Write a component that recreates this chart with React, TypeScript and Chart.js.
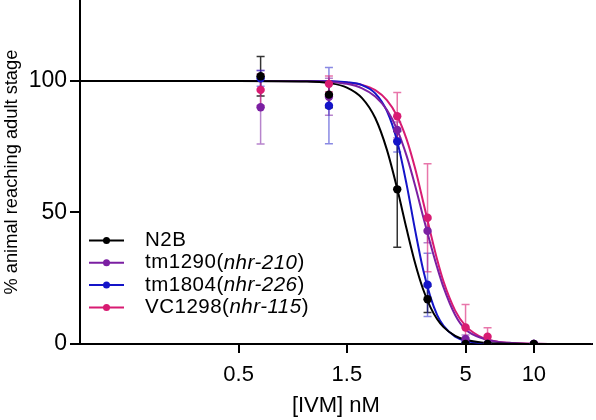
import { useEffect, useRef } from "react";
import { Chart, registerables } from "chart.js";

Chart.register(...registerables);

const FONT = "'Liberation Sans', Arial, Helvetica, sans-serif";

// Strains / legend
const strains = ["N2B", "tm1290", "tm1804", "VC1298"];
const genes = ["", "nhr-210", "nhr-226", "nhr-115"];
const colors = ["#000000", "#7B1FA2", "#1414C8", "#D81B72"];
const errColors = [
  "rgba(0,0,0,0.8)",
  "rgba(123,31,162,0.55)",
  "rgba(20,20,200,0.5)",
  "rgba(216,27,114,0.6)",
];

// Measured points (IVM concentration, nM)
const concentrations = [0.625, 1.25, 2.5, 3.4, 5, 6.25, 10];
const n2bMean = [101.8, 94.8, 58.8, 17, 0, 0, 0];
const n2bErr = [7.5, 5, 22, 5, 0, 0, 0];
const tm1290Mean = [90, 94, 81.4, 43, 1.9, 0, 0];
const tm1290Err = [14, 7, 3, 4.5, 1.5, 0, 0];
const tm1804Mean = [101, 90.6, 77, 22.5, 0.5, 0, 0];
const tm1804Err = [3, 14.5, 4, 12, 0.5, 0, 0];
const vc1298Mean = [96.6, 98.9, 86.6, 48, 6.3, 2.8, 0];
const vc1298Err = [6, 3, 9, 20.5, 8.7, 3.4, 0];

// Fitted curves
const curveX = [0.1, 0.5, 1, 1.25, 1.5, 1.75, 2, 2.25, 2.5, 2.75, 3, 3.25, 3.5, 3.75, 4, 4.5, 5, 6, 7, 8, 10, 14, 18];
const n2bFit = [100, 100, 99.8, 99.2, 97.5, 93.5, 85.9, 73.9, 59.0, 43.7, 30.6, 20.8, 14.0, 9.4, 6.4, 3.1, 1.6, 0.5, 0.2, 0.1, 0, 0, 0];
const tm1290Fit = [100, 100, 99.9, 99.6, 98.9, 97.2, 94.1, 89.0, 81.4, 71.5, 60.1, 48.5, 38.1, 29.1, 21.5, 11.0, 5.5, 2.0, 0.8, 0.4, 0.1, 0, 0];
const tm1804Fit = [100, 100, 100, 99.9, 99.5, 98.4, 95.3, 88.6, 77.0, 60.6, 43.1, 28.3, 17.9, 11.0, 6.9, 2.8, 1.2, 0.3, 0.1, 0, 0, 0, 0];
const vc1298Fit = [100, 100, 100, 99.8, 99.4, 98.5, 96.5, 92.7, 86.6, 77.8, 66.6, 54.2, 42.4, 32.0, 23.7, 12.7, 6.9, 2.2, 0.8, 0.35, 0.1, 0, 0];

// Axis ticks
const xTicks = [0.5, 1.5, 5, 10];
const yTicks = [0, 50, 100];

const means = [n2bMean, tm1290Mean, tm1804Mean, vc1298Mean];
const errs = [n2bErr, tm1290Err, tm1804Err, vc1298Err];
const fits = [n2bFit, tm1290Fit, tm1804Fit, vc1298Fit];

const errorBarPlugin = {
  id: "errorBars",
  beforeDatasetsDraw(chart: any) {
    const { ctx, chartArea, scales } = chart;
    const x = scales.x;
    const y = scales.y;
    ctx.save();
    ctx.beginPath();
    ctx.rect(chartArea.left, chartArea.top, chartArea.right - chartArea.left, chartArea.bottom - chartArea.top);
    ctx.clip();
    ctx.lineWidth = 1.5;
    means.forEach((m, i) => {
      ctx.strokeStyle = errColors[i];
      concentrations.forEach((c, j) => {
        const e = errs[i][j];
        if (!e) return;
        const px = x.getPixelForValue(c);
        const top = y.getPixelForValue(m[j] + e);
        const bot = y.getPixelForValue(m[j] - e);
        ctx.beginPath();
        ctx.moveTo(px, top);
        ctx.lineTo(px, bot);
        ctx.moveTo(px - 4, top);
        ctx.lineTo(px + 4, top);
        ctx.moveTo(px - 4, bot);
        ctx.lineTo(px + 4, bot);
        ctx.stroke();
      });
    });
    ctx.restore();
  },
};

const legendPlugin = {
  id: "customLegend",
  afterDraw(chart: any) {
    const { ctx } = chart;
    ctx.save();
    const startY = 244.5; // canvas is shifted up by 4px
    const step = 22.3;
    const size = 20.5;
    strains.forEach((s, i) => {
      const yy = startY + i * step;
      ctx.strokeStyle = colors[i];
      ctx.fillStyle = colors[i];
      ctx.lineWidth = 2;
      ctx.beginPath();
      ctx.moveTo(89, yy);
      ctx.lineTo(124, yy);
      ctx.stroke();
      ctx.beginPath();
      ctx.arc(106.5, yy, 3.5, 0, Math.PI * 2);
      ctx.fill();
      ctx.fillStyle = "#000";
      ctx.textBaseline = "middle";
      ctx.textAlign = "left";
      try { (ctx as any).letterSpacing = "0.5px"; } catch (e) {}
      let tx = 145;
      ctx.font = `${size}px ${FONT}`;
      const first = genes[i] ? s + "(" : s;
      ctx.fillText(first, tx, yy);
      tx += ctx.measureText(first).width;
      if (genes[i]) {
        ctx.font = `italic ${size}px ${FONT}`;
        ctx.fillText(genes[i], tx, yy);
        tx += ctx.measureText(genes[i]).width;
        ctx.font = `${size}px ${FONT}`;
        ctx.fillText(")", tx, yy);
      }
    });
    ctx.restore();
  },
};

export default function App() {
  const ref = useRef<HTMLCanvasElement | null>(null);

  useEffect(() => {
    if (!ref.current) return;
    const datasets: any[] = [];
    strains.forEach((s, i) => {
      datasets.push({
        type: "line",
        label: s + " fit",
        data: curveX.map((x, j) => ({ x, y: fits[i][j] })),
        borderColor: colors[i],
        borderWidth: 2,
        pointRadius: 0,
        cubicInterpolationMode: "monotone",
        fill: false,
        order: 2,
      });
    });
    strains.forEach((s, i) => {
      datasets.push({
        type: "scatter",
        label: s,
        data: concentrations.map((x, j) => ({ x, y: means[i][j] })),
        backgroundColor: colors[i],
        borderColor: colors[i],
        pointRadius: 4.2,
        borderWidth: 0,
        showLine: false,
        order: 1,
      });
    });

    const chart = new Chart(ref.current, {
      type: "scatter",
      data: { datasets },
      plugins: [errorBarPlugin, legendPlugin],
      options: {
        animation: false,
        responsive: false,
        maintainAspectRatio: false,
        layout: { padding: 0 },
        plugins: { legend: { display: false }, tooltip: { enabled: false } },
        scales: {
          x: {
            type: "logarithmic",
            min: 0.1,
            max: 18,
            afterBuildTicks: (s: any) => {
              s.ticks = xTicks.map((v) => ({ value: v }));
            },
            afterFit: (s: any) => {
              s.height = 76;
              s.paddingLeft = 0;
              s.paddingRight = 0;
            },
            ticks: {
              autoSkip: false,
              maxRotation: 0,
              color: "#000",
              padding: 9,
              font: { family: FONT, size: 22 },
              callback: (v: any) => String(v),
            },
            grid: { drawOnChartArea: false, drawTicks: true, tickLength: 9, color: "#000", lineWidth: 2 },
            border: { display: true, color: "#000", width: 2 },
            title: {
              display: true,
              text: "[IVM] nM",
              color: "#000",
              font: { family: FONT, size: 22 },
              padding: { top: 0, bottom: 1 },
            },
          },
          y: {
            type: "linear",
            min: 0,
            max: 130.7,
            afterBuildTicks: (s: any) => {
              s.ticks = yTicks.map((v) => ({ value: v }));
            },
            afterFit: (s: any) => {
              s.width = 80;
              s.paddingTop = 0;
              s.paddingBottom = 0;
            },
            ticks: {
              color: "#000",
              padding: 3,
              font: { family: FONT, size: 23 },
            },
            grid: { drawOnChartArea: false, drawTicks: true, tickLength: 10, color: "#000", lineWidth: 2 },
            border: { display: true, color: "#000", width: 2 },
            title: {
              display: true,
              text: "% animal reaching adult stage",
              color: "#000",
              font: { family: FONT, size: 18.3 },
              padding: { top: 1, bottom: 0 },
            },
          },
        },
      } as any,
    });
    return () => chart.destroy();
  }, []);

  return (
    <div style={{ position: "fixed", left: 0, top: -4, width: 596, height: 424, background: "#fff" }}>
      <canvas ref={ref} width={596} height={424} style={{ display: "block" }} />
    </div>
  );
}
